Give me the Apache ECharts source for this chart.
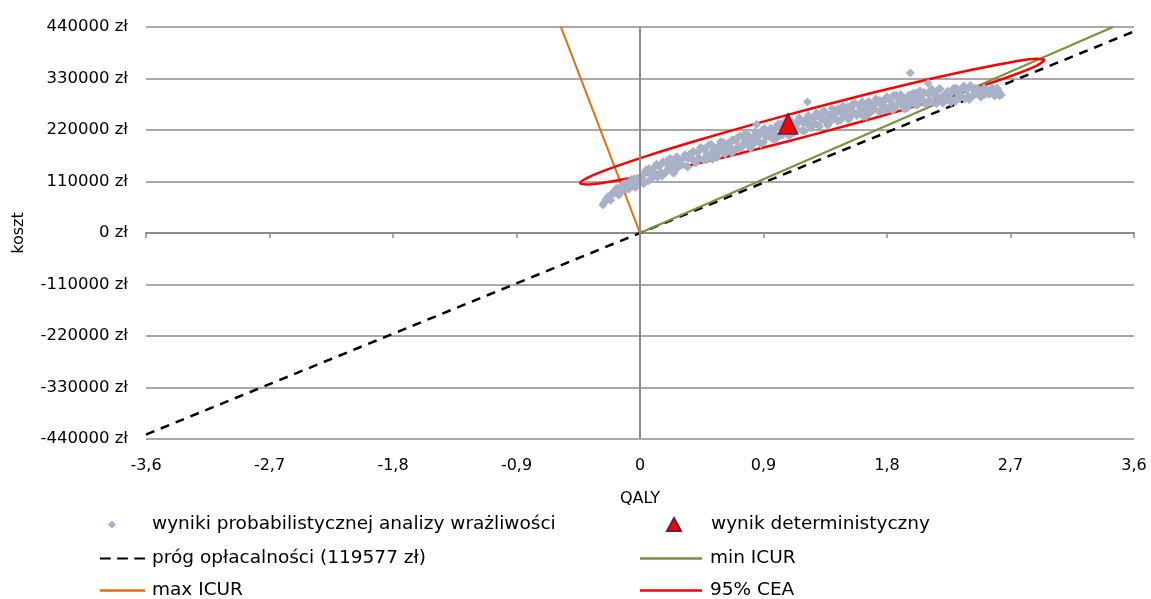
<!DOCTYPE html>
<html><head><meta charset="utf-8">
<script src="https://cdn.jsdelivr.net/npm/echarts@6/dist/echarts.min.js"></script>
<style>html,body{margin:0;padding:0;background:#fff}#c{width:1151px;height:599px}</style>
</head><body><div id="c"></div>
<script>
// PSA scatter: [QALY, cost zł]
const psaPoints = [
[-0.26,65000],[-0.247,72000],[-0.233,78000],[-0.22,71000],[-0.207,81000],[-0.193,85000],
[-0.18,86000],[-0.167,95000],[-0.153,81000],[-0.14,99000],[-0.127,91000],[-0.113,105000],
[-0.10,93000],[-0.087,106000],[-0.073,100000],[-0.06,115000],[-0.047,104000],[-0.033,97000],
[-0.02,116000],[-0.007,109000],[0.007,119000],[0.02,113000],[0.033,126000],[0.047,135000],
[0.06,111000],[0.073,127000],[0.087,134000],[0.10,127000],[0.113,142000],[0.127,119000],
[0.14,142000],[0.153,129000],[0.167,152000],[0.18,127000],[0.193,149000],[0.207,139000],
[0.22,159000],[0.233,140000],[0.247,128000],[0.26,151000],[0.273,139000],[0.287,156000],
[0.30,145000],[0.313,158000],[0.327,167000],[0.34,143000],[0.353,159000],[0.367,166000],
[0.38,158000],[0.393,173000],[0.407,150000],[0.42,172000],[0.433,159000],[0.447,182000],
[0.46,157000],[0.473,179000],[0.487,169000],[0.50,188000],[0.513,169000],[0.527,157000],
[0.54,179000],[0.553,167000],[0.567,184000],[0.58,172000],[0.593,185000],[0.607,194000],
[0.62,169000],[0.633,185000],[0.647,192000],[0.66,184000],[0.673,199000],[0.687,176000],
[0.70,197000],[0.713,184000],[0.727,207000],[0.74,182000],[0.753,204000],[0.767,194000],
[0.78,212000],[0.793,193000],[0.807,181000],[0.82,204000],[0.833,192000],[0.847,209000],
[0.86,197000],[0.873,210000],[0.887,219000],[0.90,194000],[0.913,210000],[0.927,217000],
[0.94,209000],[0.953,224000],[0.967,201000],[0.98,223000],[0.993,210000],[1.007,233000],
[1.02,208000],[1.033,230000],[1.047,220000],[1.06,238000],[1.073,219000],[1.087,207000],
[1.10,230000],[1.113,218000],[1.127,235000],[1.14,222000],[1.153,235000],[1.167,244000],
[1.18,219000],[1.193,235000],[1.207,242000],[1.22,233000],[1.233,248000],[1.247,225000],
[1.26,247000],[1.273,234000],[1.287,257000],[1.30,231000],[1.313,253000],[1.327,243000],
[1.34,261000],[1.353,242000],[1.367,230000],[1.38,252000],[1.393,240000],[1.407,257000],
[1.42,244000],[1.433,257000],[1.447,266000],[1.46,241000],[1.473,257000],[1.487,264000],
[1.50,254000],[1.513,269000],[1.527,246000],[1.54,267000],[1.553,254000],[1.567,277000],
[1.58,251000],[1.593,273000],[1.607,263000],[1.62,280000],[1.633,261000],[1.647,249000],
[1.66,271000],[1.673,259000],[1.687,276000],[1.70,262000],[1.713,275000],[1.727,284000],
[1.74,259000],[1.753,275000],[1.767,282000],[1.78,272000],[1.793,287000],[1.807,264000],
[1.82,284000],[1.833,271000],[1.847,294000],[1.86,267000],[1.873,289000],[1.887,279000],
[1.90,296000],[1.913,277000],[1.927,265000],[1.94,286000],[1.953,274000],[1.967,291000],
[1.98,277000],[1.993,290000],[2.007,299000],[2.02,273000],[2.033,289000],[2.047,296000],
[2.06,285000],[2.073,300000],[2.087,277000],[2.10,297000],[2.113,284000],[2.127,307000],
[2.14,279000],[2.153,301000],[2.167,291000],[2.18,308000],[2.193,289000],[2.207,277000],
[2.22,297000],[2.233,285000],[2.247,302000],[2.26,287000],[2.273,300000],[2.287,309000],
[2.30,282000],[2.313,298000],[2.327,305000],[2.34,294000],[2.353,309000],[2.367,286000],
[2.38,305000],[2.393,292000],[2.407,315000],[2.42,292000],[2.433,305000],[2.447,299000],
[2.46,309000],[2.473,298000],[2.487,291000],[2.50,303000],[2.513,296000],[2.527,306000],
[2.54,297000],[2.553,304000],[2.567,310000],[2.58,294000],[2.593,304000],[2.607,308000],
[2.62,300000],[2.633,295000],
[1.97,342000],[1.22,280000],[2.1,320000],[0.85,232000],[-0.27,60000],[2.62,293000],
[-0.213,70000],[-0.2,86000],[-0.173,95000],[-0.16,82000],[-0.133,91000],[-0.12,104000],
[-0.093,106000],[-0.08,94000],[-0.053,100000],[-0.04,116000],[-0.013,117000],[0,107000],
[0.027,105000],[0.04,132000],[0.067,138000],[0.08,115000],[0.107,125000],[0.12,147000],
[0.147,145000],[0.16,122000],[0.187,129000],[0.2,155000],[0.227,148000],[0.24,129000],
[0.267,163000],[0.28,145000],[0.307,146000],[0.32,161000],[0.347,141000],[0.36,168000],
[0.387,174000],[0.4,151000],[0.427,160000],[0.44,182000],[0.467,179000],[0.48,156000],
[0.507,163000],[0.52,189000],[0.547,180000],[0.56,161000],[0.587,195000],[0.6,177000],
[0.627,176000],[0.64,191000],[0.667,171000],[0.68,198000],[0.707,203000],[0.72,180000],
[0.747,189000],[0.76,211000],[0.787,207000],[0.8,184000],[0.827,191000],[0.84,217000],
[0.867,209000],[0.88,190000],[0.907,223000],[0.92,205000],[0.947,205000],[0.96,220000],
[0.987,200000],[1.0,227000],[1.027,233000],[1.04,210000],[1.067,218000],[1.08,240000],
[1.107,237000],[1.12,214000],[1.147,220000],[1.16,246000],[1.187,237000],[1.2,218000],
[1.227,251000],[1.24,233000],[1.267,233000],[1.28,248000],[1.307,227000],[1.32,254000],
[1.347,259000],[1.36,236000],[1.387,244000],[1.4,266000],[1.427,262000],[1.44,239000],
[1.467,245000],[1.48,271000],[1.507,261000],[1.52,242000],[1.547,275000],[1.56,257000],
[1.587,256000],[1.6,271000],[1.627,249000],[1.64,276000],[1.667,281000],[1.68,258000],
[1.707,265000],[1.72,287000],[1.747,283000],[1.76,260000],[1.787,265000],[1.8,291000],
[1.827,281000],[1.84,262000],[1.867,294000],[1.88,276000],[1.907,274000],[1.92,289000],
[1.947,267000],[1.96,294000],[1.987,298000],[2.0,275000],[2.027,282000],[2.04,304000],
[2.067,298000],[2.08,275000],[2.107,280000],[2.12,306000],[2.147,295000],[2.16,276000],
[2.187,308000],[2.2,290000],[2.227,287000],[2.24,302000],[2.267,279000],[2.28,306000],
[2.307,309000],[2.32,286000],[2.347,292000],[2.36,314000],[2.387,308000],[2.4,285000],
[2.427,293000],[2.44,309000],[2.467,303000],[2.48,291000],[2.507,310000],[2.52,300000],
[2.547,297000],[2.56,306000],[2.587,293000],[2.6,309000]
];
const deterministic = [[1.079,233000]];
const thresholdLine = [[-3.6,-430477],[3.6,430477]];
const minIcurLine = [[0,0],[3.447,440000]];
const maxIcurLine = [[0,0],[-0.576,440000]];
const ellipse95 = [
[2.951,369350],[2.893,372221],[2.724,365949],[2.455,350960],[2.104,328269],[1.695,299425],
[1.257,266400],[0.819,231439],[0.410,196919],[0.059,165204],[-0.210,138451],[-0.379,118479],
[-0.437,106650],[-0.379,103779],[-0.210,110051],[0.059,125040],[0.410,147731],[0.819,176575],
[1.257,209600],[1.695,244561],[2.104,279081],[2.455,310796],[2.724,337549],[2.893,357521],
[2.951,369350]
];
const seriesNames = ['wyniki probabilistycznej analizy wrażliwości','wynik deterministyczny',
  'próg opłacalności (119577 zł)','min ICUR','max ICUR','95% CEA'];

const FONT = 'DejaVu Sans';
const chart = echarts.init(document.getElementById('c'), null, {renderer:'canvas'});
const fmtX = v => { const r = Math.round(v*10)/10; return String(r).replace('.', ','); };
const legTxt = (padLeft) => ({fontSize:18.5,color:'#000',fontFamily:FONT,padding:[0,0,0,padLeft]});
const mkLegend = (name, left, top, w, h, icon, padLeft) => ({
  show:true, left:left, top:top, padding:0, itemWidth:w, itemHeight:h, orient:'horizontal',
  selectedMode:false, textStyle:legTxt(padLeft), data:[{name:name, icon:icon}]
});
const dashIcon = 'path://M0 0H10V2H0Z M16 0H26V2H16Z M32 0H42V2H32Z';
chart.setOption({
  animation:false,
  textStyle:{fontFamily:FONT},
  grid:{left:146,right:17,top:27,bottom:160,containLabel:false},
  xAxis:[{
    type:'value',min:-3.6,max:3.6,interval:0.9,position:'bottom',
    axisLine:{show:false,onZero:false},axisTick:{show:false},splitLine:{show:false},
    axisLabel:{formatter:fmtX,fontSize:16,color:'#000',margin:19,fontFamily:FONT},
    name:'QALY',nameLocation:'middle',nameGap:52,nameTextStyle:{fontSize:16,color:'#000',fontFamily:FONT}
  },{
    type:'value',min:-3.6,max:3.6,interval:0.9,position:'bottom',
    axisLine:{show:true,onZero:true,lineStyle:{color:'#8c8c8c',width:2}},
    axisTick:{show:true,inside:false,length:5,lineStyle:{color:'#8c8c8c',width:1.5}},
    axisLabel:{show:false},splitLine:{show:false}
  }],
  yAxis:{
    type:'value',min:-440000,max:440000,interval:110000,
    axisLine:{show:false},axisTick:{show:false},
    splitLine:{show:true,lineStyle:{color:'#8c8c8c',width:1.6}},
    axisLabel:{formatter:v=>v+' zł',fontSize:16.5,color:'#000',margin:18,fontFamily:FONT},
    name:'koszt',nameLocation:'middle',nameGap:119,nameRotate:90,
    nameTextStyle:{fontSize:16,color:'#000',fontFamily:FONT}
  },
  legend:[
    mkLegend(seriesNames[0],108,515,8,8,'diamond',31),
    mkLegend(seriesNames[2],100,549,45,2.5,dashIcon,2),
    mkLegend(seriesNames[4],100,581,45,2.5,'rect',2),
    mkLegend(seriesNames[1],666,515,14,13,'triangle',25),
    mkLegend(seriesNames[3],640,549,62,2.5,'rect',3),
    mkLegend(seriesNames[5],640,581,62,2.5,'rect',3)
  ],
  series:[
    {name:seriesNames[5],type:'line',data:ellipse95,smooth:0.35,symbol:'none',
     lineStyle:{color:'#ff0000',width:2.5},itemStyle:{color:'#ff0000'},z:3},
    {name:seriesNames[2],type:'line',data:thresholdLine,symbol:'none',
     lineStyle:{color:'#000',width:2.5,type:[9,7]},itemStyle:{color:'#000'},z:2},
    {name:seriesNames[3],type:'line',data:minIcurLine,symbol:'none',
     lineStyle:{color:'#77933c',width:2},itemStyle:{color:'#77933c'},z:2},
    {name:seriesNames[4],type:'line',data:maxIcurLine,symbol:'none',
     lineStyle:{color:'#e46c0a',width:2},itemStyle:{color:'#e46c0a'},z:2,
     markLine:{silent:true,symbol:'none',label:{show:false},
       lineStyle:{color:'#8c8c8c',width:2,type:'solid'},data:[{xAxis:0}]}},
    {name:seriesNames[0],type:'scatter',data:psaPoints,symbol:'diamond',symbolSize:9,
     itemStyle:{color:'#a9b1c7',opacity:1},z:4},
    {name:seriesNames[1],type:'scatter',data:deterministic,symbol:'triangle',symbolSize:[19,20],
     itemStyle:{color:'#ff0000',borderColor:'#5e2145',borderWidth:1.5,opacity:1},z:5}
  ]
});
</script></body></html>
